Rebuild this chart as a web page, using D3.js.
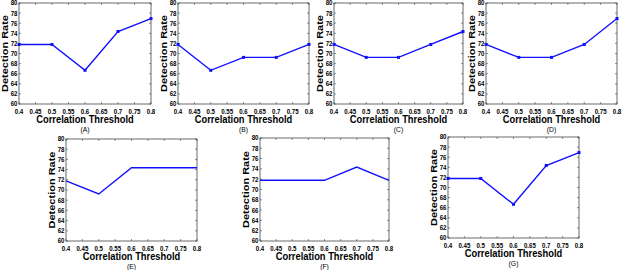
<!DOCTYPE html>
<html>
<head>
<meta charset="utf-8">
<script src="https://cdn.jsdelivr.net/npm/d3@7"></script>
<style>
    body { margin: 0; background: #fff; }
    svg { display: block; }
</style>
</head>
<body>
<svg id="chart" width="623" height="270"></svg>
<script>
// Data
const thresholds = [0.4, 0.5, 0.6, 0.7, 0.8];
const panelLabels = ['(A)', '(B)', '(C)', '(D)', '(E)', '(F)', '(G)'];
const rateA = [71.79, 71.79, 66.67, 74.36, 76.92];
const rateB = [71.79, 66.67, 69.23, 69.23, 71.79];
const rateC = [71.79, 69.23, 69.23, 71.79, 74.36];
const rateD = [71.79, 69.23, 69.23, 71.79, 76.92];
const rateE = [71.79, 69.23, 74.36, 74.36, 74.36];
const rateF = [71.79, 71.79, 71.79, 74.36, 71.79];
const rateG = [71.79, 71.79, 66.67, 74.36, 76.92];
const xTicks = [0.4, 0.45, 0.5, 0.55, 0.6, 0.65, 0.7, 0.75, 0.8];
const yTicks = [60, 62, 64, 66, 68, 70, 72, 74, 76, 78, 80];

const allRates = [rateA, rateB, rateC, rateD, rateE, rateF, rateG];

// Panel boxes (left, right, top, bottom) and marker flag
const layout = [
    { l: 19, r: 151, t: 3, b: 104, dots: true },
    { l: 178, r: 309, t: 3, b: 104, dots: true },
    { l: 334, r: 463, t: 3, b: 104, dots: true },
    { l: 486, r: 617, t: 3, b: 104, dots: true },
    { l: 66, r: 197, t: 139, b: 241, dots: false },
    { l: 260, r: 389, t: 138, b: 241, dots: false },
    { l: 448, r: 579, t: 137, b: 238, dots: true }
];

const svg = d3.select('#chart');
const squeeze = 0.85; // text in the figure is horizontally compressed
const lineColor = '#1010ff';
const boxColor = '#444';
const font = "'Liberation Sans', Arial, sans-serif";

function drawPanel(rates, box, label) {
    const g = svg.append('g');
    const x = d3.scaleLinear().domain([0.4, 0.8]).range([box.l, box.r]);
    const y = d3.scaleLinear().domain([60, 80]).range([box.b, box.t]);

    // Frame
    g.append('rect')
        .attr('x', box.l)
        .attr('y', box.t)
        .attr('width', box.r - box.l)
        .attr('height', box.b - box.t)
        .attr('fill', 'none')
        .attr('stroke', boxColor)
        .attr('stroke-width', 0.8);

    // Inner ticks on all four sides
    const tickLen = 2;
    xTicks.forEach(v => {
        [[box.b, -tickLen], [box.t, tickLen]].forEach(([y0, d]) => {
            g.append('line')
                .attr('x1', x(v)).attr('x2', x(v))
                .attr('y1', y0).attr('y2', y0 + d)
                .attr('stroke', boxColor).attr('stroke-width', 0.6);
        });
    });
    yTicks.forEach(v => {
        [[box.l, tickLen], [box.r, -tickLen]].forEach(([x0, d]) => {
            g.append('line')
                .attr('x1', x0).attr('x2', x0 + d)
                .attr('y1', y(v)).attr('y2', y(v))
                .attr('stroke', boxColor).attr('stroke-width', 0.6);
        });
    });

    // Tick labels
    xTicks.forEach(v => {
        g.append('text')
            .attr('transform', `translate(${x(v)},${box.b + 9.5}) scale(${squeeze},1)`)
            .attr('text-anchor', 'middle')
            .style('font-family', font)
            .style('font-size', '7.2px')
            .style('font-weight', 'bold')
            .attr('fill', '#000')
            .text(v);
    });
    yTicks.forEach(v => {
        g.append('text')
            .attr('transform', `translate(${box.l - 1.5},${y(v) + 2.4}) scale(${squeeze},1)`)
            .attr('text-anchor', 'end')
            .style('font-family', font)
            .style('font-size', '7.2px')
            .style('font-weight', 'bold')
            .attr('fill', '#000')
            .text(v);
    });

    // Axis titles
    const cx = (box.l + box.r) / 2;
    g.append('text')
        .attr('transform', `translate(${cx},${box.b + 19}) scale(${squeeze},1)`)
        .attr('text-anchor', 'middle')
        .style('font-family', font)
        .style('font-size', '11px')
        .style('font-weight', 'bold')
        .text('Correlation Threshold');
    g.append('text')
        .attr('transform', `translate(${cx},${box.b + 27.5}) scale(${squeeze},1)`)
        .attr('text-anchor', 'middle')
        .style('font-family', font)
        .style('font-size', '8px')
        .text(label);
    g.append('text')
        .attr('transform', `translate(${box.l - 11.5},${(box.t + box.b) / 2}) scale(${squeeze},1) rotate(-90)`)
        .attr('text-anchor', 'middle')
        .style('font-family', font)
        .style('font-size', '11px')
        .style('font-weight', 'bold')
        .text('Detection Rate');

    // Series line
    const pts = thresholds.map((t, i) => [t, rates[i]]);
    g.append('path')
        .datum(pts)
        .attr('d', d3.line().x(d => x(d[0])).y(d => y(d[1])))
        .attr('fill', 'none')
        .attr('stroke', lineColor)
        .attr('stroke-width', 1.4);

    if (box.dots) {
        g.selectAll('rect.dot')
            .data(pts)
            .join('rect')
            .attr('class', 'dot')
            .attr('x', d => x(d[0]) - 1.5)
            .attr('y', d => y(d[1]) - 1.5)
            .attr('width', 3)
            .attr('height', 3)
            .attr('fill', lineColor);
    }
}

allRates.forEach((rates, i) => drawPanel(rates, layout[i], panelLabels[i]));
</script>
</body>
</html>
